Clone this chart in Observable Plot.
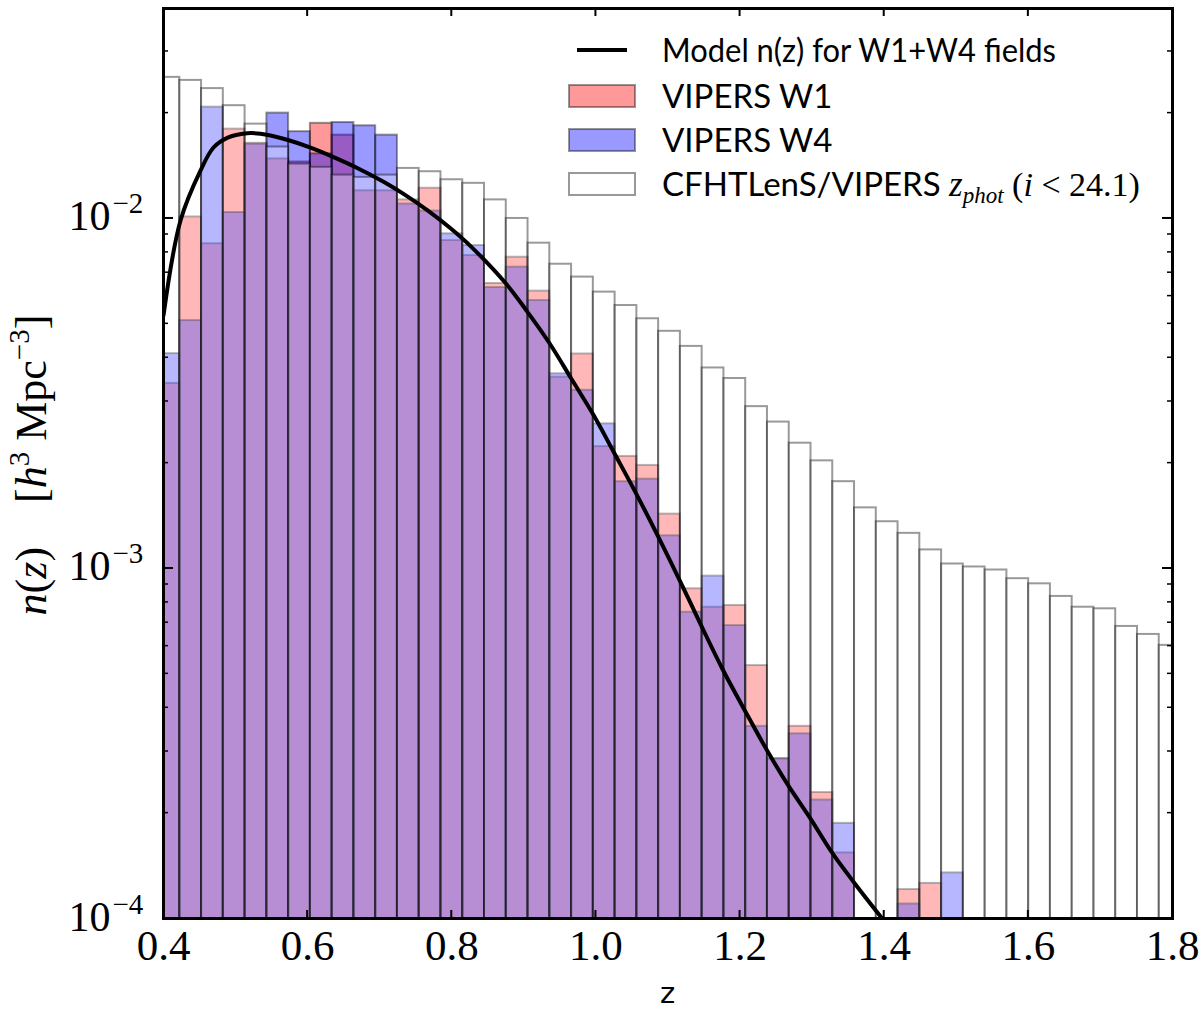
<!DOCTYPE html>
<html>
<head>
<meta charset="utf-8">
<script src="https://cdn.jsdelivr.net/npm/d3@7"></script>
<script src="https://cdn.jsdelivr.net/npm/@observablehq/plot@0.6"></script>
<style>
  body { margin: 0; background: #fff; }
  #chart svg { display: block; background: #fff; }
</style>
</head>
<body>
<div id="chart"></div>
<script>
// lower edge (z) of every histogram bin, all bins share one width
const binLo = [
  0.3924, 0.4226, 0.4528, 0.4830, 0.5132, 0.5434, 0.5736, 0.6038, 0.6340, 0.6642,
  0.6944, 0.7246, 0.7548, 0.7850, 0.8152, 0.8454, 0.8756, 0.9058, 0.9360, 0.9662,
  0.9964, 1.0266, 1.0568, 1.0870, 1.1172, 1.1474, 1.1776, 1.2078, 1.2380, 1.2682,
  1.2984, 1.3286, 1.3588, 1.3890, 1.4192, 1.4494, 1.4796, 1.5098, 1.5400, 1.5702,
  1.6004, 1.6306, 1.6608, 1.6910, 1.7212, 1.7514, 1.7816
];
const binWidth = 0.0302;

// CFHTLenS/VIPERS photometric n(z)
const cfhtN = [
  0.0253, 0.0248, 0.0235, 0.0210, 0.0186, 0.0160, 0.0143, 0.0140, 0.0133, 0.0131,
  0.0133, 0.0139, 0.0136, 0.0129, 0.0126, 0.0113, 0.0100, 0.0085, 0.0074, 0.0068,
  0.00616, 0.00564, 0.00517, 0.00476, 0.00431, 0.00374, 0.00349, 0.00290, 0.00262, 0.00228,
  0.00203, 0.00177, 0.00149, 0.00136, 0.00126, 0.00113, 0.00103, 0.00101, 0.00099, 0.000935,
  0.000904, 0.000832, 0.000775, 0.000767, 0.000683, 0.000648, 0.000603
];

// VIPERS W1 (null = empty bin)
const w1N = [
  0.00338, 0.0101, 0.00847, 0.0180, 0.0164, 0.0148, 0.0145, 0.0187, 0.0173, 0.0120,
  0.0120, 0.0113, 0.0122, 0.00865, 0.00784, 0.00652, 0.00775, 0.0062, 0.00352, 0.0041,
  0.00223, 0.00209, 0.00197, 0.00143, 0.000875, 0.000775, 0.000784, 0.000528, 0.000286, 0.000354,
  0.000229, 0.000154, null, null, 0.000121, 0.000126, null, null, null, null,
  null, null, null, null, null, null, null
];

// VIPERS W4
const w4N = [
  0.00411, 0.00511, 0.0208, 0.0104, 0.0163, 0.0200, 0.0177, 0.0153, 0.0188, 0.0184,
  0.0173, 0.0110, 0.0105, 0.00904, 0.00837, 0.00635, 0.00726, 0.00583, 0.0036, 0.00323,
  0.00259, 0.00177, 0.0018, 0.00124, 0.00075, 0.000951, 0.000687, 0.000354, 0.000286, 0.000337,
  0.000218, 0.000187, null, null, 0.00011, null, 0.000135, null, null, null,
  null, null, null, null, null, null, null
];

// model n(z) for W1+W4
const modelZ = [
  0.4, 0.4236, 0.4513, 0.4694, 0.4884, 0.5161, 0.5346, 0.5665, 0.604, 0.6359,
  0.6688, 0.7053, 0.733, 0.7659, 0.7982, 0.826, 0.8745, 0.9047, 0.9356, 0.9657,
  0.9971, 1.0258, 1.0549, 1.085, 1.115, 1.1461, 1.1752, 1.2066, 1.2367, 1.2668,
  1.2977, 1.3269, 1.3578, 1.3972
];
const modelN = [
  0.00528, 0.00987, 0.0137, 0.01595, 0.0170, 0.01752, 0.01746, 0.01689, 0.01593, 0.01497,
  0.01394, 0.01273, 0.01176, 0.01057, 0.00938, 0.00834, 0.00654, 0.00542, 0.0044, 0.00349,
  0.002735, 0.00213, 0.00165, 0.00125, 0.000936, 0.000687, 0.000518, 0.000393, 0.000304, 0.00024,
  0.000193, 0.000155, 0.000127, 0.0001
];

const xTicks = [0.4, 0.6, 0.8, 1.0, 1.2, 1.4, 1.6, 1.8];
const yMajor = [1e-4, 1e-3, 1e-2];
const yMinorSteps = [2, 3, 4, 5, 6, 7, 8, 9];

const xDomain = [0.4, 1.8];
const yDomain = [1e-4, 0.0398];

const legendModel = "Model n(z) for W1+W4 fields";
const legendW1 = "VIPERS W1";
const legendW4 = "VIPERS W4";

const serif = "'Liberation Serif', 'Times New Roman', serif";
const sans = "Lato, 'DejaVu Sans', sans-serif";

function barRows(values) {
  return binLo
    .map((lo, i) => ({x1: lo, x2: lo + binWidth, n: values[i]}))
    .filter(d => d.n != null);
}
const modelRows = modelZ.map((z, i) => ({z, n: modelN[i]}));

// bars start below the frame so their bottom edge is clipped away
const yFloor = yDomain[0] / 2;
const edge = {stroke: "black", strokeOpacity: 0.4, clip: true};

const plot = Plot.plot({
  width: 1200,
  height: 1013,
  marginTop: 8,
  marginRight: 28,
  marginBottom: 95,
  marginLeft: 163,
  x: {domain: xDomain, axis: null},
  y: {type: "log", domain: yDomain, axis: null},
  marks: [
    Plot.rect(barRows(w1N), {x1: "x1", x2: "x2", y1: yFloor, y2: "n", fill: "red", fillOpacity: 0.4, strokeWidth: 2, ...edge}),
    Plot.rect(barRows(w4N), {x1: "x1", x2: "x2", y1: yFloor, y2: "n", fill: "blue", fillOpacity: 0.4, strokeWidth: 2, ...edge}),
    Plot.rect(barRows(cfhtN), {x1: "x1", x2: "x2", y1: yFloor, y2: "n", fill: "white", fillOpacity: 0.3, strokeWidth: 2, ...edge}),
    Plot.line(modelRows, {x: "z", y: "n", stroke: "black", strokeWidth: 4, curve: "catmull-rom", clip: true}),
    Plot.frame({stroke: "black", strokeWidth: 3}),
    // x tick labels
    Plot.text(xTicks, {
      x: d => d, frameAnchor: "bottom", lineAnchor: "bottom", dy: 41,
      text: d => d.toFixed(1), fontSize: 43, fontFamily: serif, fill: "black"
    }),
    // y tick labels: mantissa "10" and superscript exponent
    Plot.text(yMajor, {
      y: d => d, frameAnchor: "left", textAnchor: "end", lineAnchor: "bottom",
      dx: -53, dy: 12, text: () => "10", fontSize: 42, fontFamily: serif, fill: "black"
    }),
    Plot.text(yMajor, {
      y: d => d, frameAnchor: "left", textAnchor: "start", lineAnchor: "bottom",
      dx: -51, dy: -5, text: d => "\u2212" + Math.round(-Math.log10(d)),
      fontSize: 29, fontFamily: serif, fill: "black"
    })
  ]
});

document.getElementById("chart").appendChild(plot);

// inward ticks on all four sides, placed through Plot's scales
const sx = plot.scale("x");
const sy = plot.scale("y");
const [xL, xR] = sx.range;
const [yB, yT] = sy.range;
const svg = d3.select(plot);
const ticks = svg.append("g").attr("stroke", "black");

for (const t of xTicks) {
  const px = sx.apply(t);
  ticks.append("line").attr("x1", px).attr("x2", px).attr("y1", yB).attr("y2", yB - 8).attr("stroke-width", 2);
  ticks.append("line").attr("x1", px).attr("x2", px).attr("y1", yT).attr("y2", yT + 8).attr("stroke-width", 2);
}
const yMinor = [];
for (const m of yMajor) for (const k of yMinorSteps) if (m * k < yDomain[1]) yMinor.push(m * k);
for (const [vals, len, w] of [[yMajor, 10, 2], [yMinor, 5, 1.5]]) {
  for (const v of vals) {
    const py = sy.apply(v);
    ticks.append("line").attr("x1", xL).attr("x2", xL + len).attr("y1", py).attr("y2", py).attr("stroke-width", w);
    ticks.append("line").attr("x1", xR).attr("x2", xR - len).attr("y1", py).attr("y2", py).attr("stroke-width", w);
  }
}

// x axis label
svg.append("text")
  .attr("x", (xL + xR) / 2).attr("y", 1003)
  .attr("text-anchor", "middle")
  .attr("font-family", "'DejaVu Sans', sans-serif")
  .attr("font-size", 29)
  .text("z");

// y axis label: n(z)  [h^3 Mpc^-3]
const yLab = svg.append("text")
  .attr("transform", "translate(46,465) rotate(-90)")
  .attr("text-anchor", "middle")
  .attr("font-family", serif)
  .attr("font-size", 44);
yLab.append("tspan").attr("font-style", "italic").text("n");
yLab.append("tspan").text("(");
yLab.append("tspan").attr("font-style", "italic").text("z");
yLab.append("tspan").text(")\u2003[");
yLab.append("tspan").attr("font-style", "italic").text("h");
yLab.append("tspan").attr("font-size", 29).attr("dy", -17).text("3");
yLab.append("tspan").attr("dy", 17).text(" Mpc");
yLab.append("tspan").attr("font-size", 29).attr("dy", -17).text("\u22123");
yLab.append("tspan").attr("dy", 17).text("]");

// legend, top right inside the frame
const leg = svg.append("g");
const rowY = [50, 96, 140, 184];
leg.append("line")
  .attr("x1", 577).attr("x2", 627).attr("y1", rowY[0]).attr("y2", rowY[0])
  .attr("stroke", "black").attr("stroke-width", 4);
const patches = [
  {fill: "red", op: 0.4},
  {fill: "blue", op: 0.4},
  {fill: "white", op: 0.3}
];
patches.forEach((p, i) => {
  leg.append("rect")
    .attr("x", 569).attr("y", rowY[i + 1] - 11).attr("width", 66).attr("height", 22)
    .attr("fill", p.fill).attr("fill-opacity", p.op)
    .attr("stroke", "black").attr("stroke-opacity", 0.4).attr("stroke-width", 2);
});
const legText = (i) => leg.append("text")
  .attr("x", 662).attr("y", rowY[i] + 12)
  .attr("text-anchor", "start")
  .attr("font-family", sans).attr("font-size", 33).attr("fill", "black");
legText(0).attr("textLength", 394).attr("lengthAdjust", "spacingAndGlyphs").text(legendModel);
legText(1).text(legendW1);
legText(2).text(legendW4);
const t4 = legText(3);
t4.append("tspan").text("CFHTLenS/VIPERS ");
t4.append("tspan").attr("font-family", serif).attr("font-style", "italic").attr("font-size", 35).text("z");
t4.append("tspan").attr("font-family", serif).attr("font-style", "italic").attr("font-size", 23).attr("dy", 7).text("phot");
t4.append("tspan").attr("font-family", serif).attr("font-size", 34).attr("dy", -7).text(" (");
t4.append("tspan").attr("font-family", serif).attr("font-style", "italic").attr("font-size", 34).text("i");
t4.append("tspan").attr("font-family", serif).attr("font-size", 34).text(" < 24.1)");
</script>
</body>
</html>
